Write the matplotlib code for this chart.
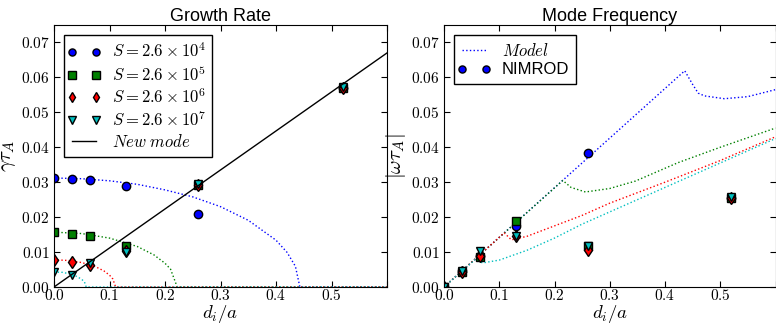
import matplotlib
matplotlib.use("Agg")
import matplotlib.pyplot as plt
from matplotlib.ticker import FuncFormatter, MultipleLocator
from matplotlib.legend_handler import HandlerLine2D
from matplotlib.lines import Line2D

plt.rcParams["mathtext.fontset"] = "cm"
plt.rcParams["font.family"] = ["Liberation Sans", "DejaVu Sans"]

# NIMROD runs: d_i/a for each resistivity
di = [0.0, 0.0325, 0.065, 0.13, 0.26, 0.52]
labels = [r"$S=2.6\times10^4$", r"$S=2.6\times10^5$",
          r"$S=2.6\times10^6$", r"$S=2.6\times10^7$"]
colors = ["b", "g", "r", "c"]
markers = ["o", "s", "d", "v"]

gamma = [
    [0.0312, 0.0310, 0.0306, 0.0289, 0.0208, 0.0570],
    [0.0157, 0.0153, 0.0145, 0.0116, 0.0293, 0.0570],
    [0.0078, 0.0072, 0.0062, 0.0104, 0.0293, 0.0570],
    [0.0043, 0.0033, 0.0068, 0.0100, 0.0296, 0.0572],
]
omega = [
    [0.0, 0.0045, 0.0090, 0.0176, 0.0385, 0.0255],
    [0.0, 0.0043, 0.0086, 0.0188, 0.0118, 0.0255],
    [0.0, 0.0044, 0.0090, 0.0145, 0.0105, 0.0254],
    [0.0, 0.0047, 0.0102, 0.0147, 0.0117, 0.0258],
]

# model curves
gm_x = [
    [0.0, 0.05, 0.1, 0.15, 0.2, 0.25, 0.3, 0.35, 0.4, 0.42, 0.435, 0.443, 0.6],
    [0.0, 0.05, 0.1, 0.15, 0.18, 0.2, 0.21, 0.222, 0.6],
    [0.0, 0.025, 0.05, 0.075, 0.09, 0.1, 0.106, 0.111, 0.6],
    [0.0, 0.015, 0.03, 0.04, 0.05, 0.055, 0.058, 0.6],
]
gm_y = [
    [0.0312, 0.0310, 0.0304, 0.0294, 0.0278, 0.0258, 0.0230, 0.0191, 0.0134, 0.0099, 0.0059, 0.0, 0.0],
    [0.0157, 0.0153, 0.0140, 0.0116, 0.0092, 0.0068, 0.0051, 0.0, 0.0],
    [0.0078, 0.0076, 0.0070, 0.0058, 0.0046, 0.0034, 0.0023, 0.0, 0.0],
    [0.0043, 0.0042, 0.0037, 0.0031, 0.0022, 0.0014, 0.0, 0.0],
]
wm_x = [
    [0.0, 0.4357, 0.45, 0.46, 0.4716, 0.5075, 0.55, 0.6],
    [0.0, 0.215, 0.23, 0.256, 0.3, 0.346, 0.4237, 0.5, 0.6],
    [0.0, 0.109, 0.122, 0.15, 0.2, 0.25, 0.3, 0.4, 0.5, 0.6],
    [0.0, 0.0557, 0.07, 0.1, 0.15, 0.2, 0.25, 0.3, 0.4, 0.5, 0.6],
]
wm_y = [
    [0.0, 0.0619, 0.0580, 0.0555, 0.0547, 0.0539, 0.0545, 0.0565],
    [0.0, 0.0305, 0.0285, 0.0272, 0.0282, 0.0303, 0.0356, 0.0400, 0.0455],
    [0.0, 0.0155, 0.0135, 0.0145, 0.0175, 0.0205, 0.0240, 0.0300, 0.0362, 0.0430],
    [0.0, 0.0078, 0.0069, 0.0077, 0.0105, 0.0140, 0.0180, 0.0215, 0.0285, 0.0355, 0.0425],
]

newmode_x = [0.0, 0.6]
newmode_y = [0.0, 0.067]


def style_axes(ax):
    ax.set_xlim(0, 0.6)
    ax.set_ylim(0, 0.075)
    ax.xaxis.set_major_locator(MultipleLocator(0.1))
    ax.yaxis.set_major_locator(MultipleLocator(0.01))
    ax.xaxis.set_major_formatter(FuncFormatter(
        lambda v, p: r"$%.1f$" % v if v < 0.55 else ""))
    ax.yaxis.set_major_formatter(FuncFormatter(
        lambda v, p: r"$%.2f$" % v if v < 0.0725 else ""))
    ax.tick_params(direction="in", top=True, right=True, length=4,
                   labelsize=11, pad=3)
    ax.tick_params(axis="x", pad=1)
    ax.set_xlabel(r"$d_i/a$", fontsize=13.5, labelpad=0)


fig = plt.figure(figsize=(7.76, 3.24), dpi=100)
ax1 = fig.add_axes([54 / 776, 37 / 324, 333 / 776, 262 / 324])
ax2 = fig.add_axes([444 / 776, 37 / 324, 331.5 / 776, 262 / 324])

for i in range(4):
    ax1.plot(gm_x[i], gm_y[i], ":", color=colors[i], lw=1)
    ax2.plot(wm_x[i], wm_y[i], ":", color=colors[i], lw=1,
             label=r"$Model$" if i == 0 else None)

for i in range(4):
    ax1.plot(di, gamma[i], linestyle="none", marker=markers[i],
             color=colors[i], mec="k", ms=6, label=labels[i])
    ax2.plot(di, omega[i], linestyle="none", marker=markers[i],
             color=colors[i], mec="k", ms=6,
             label="NIMROD" if i == 0 else None)

ax1.plot(newmode_x, newmode_y, "k-", lw=1, label=r"$New\ mode$")

for ax in (ax1, ax2):
    style_axes(ax)

ax1.set_title("Growth Rate", fontsize=13, pad=3)
ax2.set_title("Mode Frequency", fontsize=13, pad=3)
ax1.set_ylabel(r"$\gamma\tau_A$", fontsize=15, labelpad=2)
ax2.set_ylabel(r"$|\omega\tau_A|$", fontsize=15, labelpad=2)

leg_kw = dict(loc="upper left", numpoints=2, fancybox=False,
              edgecolor="k", framealpha=1, handlelength=1.55,
              fontsize=12, labelspacing=0.22, borderaxespad=0.6,
              markerscale=0.85, handletextpad=0.9,
              handler_map={Line2D: HandlerLine2D(marker_pad=0.05)})
l1 = ax1.legend(**leg_kw)
l2 = ax2.legend(**leg_kw)
for l in (l1, l2):
    l.get_frame().set_linewidth(1)

fig.savefig("out.png", dpi=100)
